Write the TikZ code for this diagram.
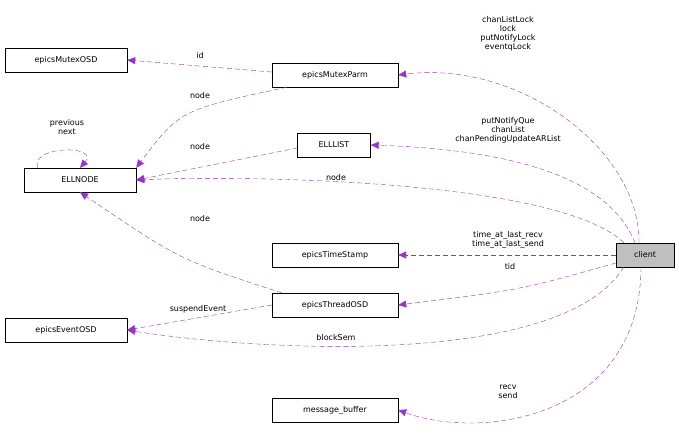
\documentclass[tikz,border=0pt]{standalone}
\usepackage{fontspec}
\setmainfont{DejaVu Sans}
\usetikzlibrary{arrows.meta}
\definecolor{edgecol}{HTML}{9A32CD}
\tikzset{
  box/.style={draw, fill=white, inner sep=0pt, minimum height=24pt, font=\fontsize{8}{9}\selectfont},
  gray box/.style={box, fill=black!25},
  rel/.style={draw=edgecol, dashed, dash pattern=on 5pt off 3pt, -{Triangle[length=8pt,width=7pt]}, fill=none},
  lbl/.style={font=\fontsize{8}{9}\selectfont, align=center, inner sep=1pt}
}
\begin{document}
\begin{tikzpicture}[x=1pt, y=-1pt]
\useasboundingbox (0,0) rectangle (679,447);

\node[box, minimum width=122pt] (mutexosd) at (66,60) {epicsMutexOSD};
\node[box, minimum width=126pt] (mutexparm) at (335,75) {epicsMutexParm};
\node[box, minimum width=112pt] (ellnode) at (80,180) {ELLNODE};
\node[box, minimum width=73pt] (elllist) at (334,145) {ELLLIST};
\node[box, minimum width=126pt] (timestamp) at (335,255) {epicsTimeStamp};
\node[gray box, minimum width=58pt] (client) at (645,255) {client};
\node[box, minimum width=126pt] (threadosd) at (335,305) {epicsThreadOSD};
\node[box, minimum width=122pt] (eventosd) at (66,330) {epicsEventOSD};
\node[box, minimum width=126pt] (msgbuf) at (335,410) {message\_buffer};

% edges into ELLNODE
\draw[rel] (mutexparm.south west) ++(15,0) coordinate (mp) .. controls (180,110) .. (ellnode.north east);
\draw[rel] (mutexparm.west) ++(0,-3) coordinate (mpw) -- (mutexosd.east);
\draw[rel] (elllist.west) ++(0,3) coordinate (elw) -- (ellnode.east);
\draw[rel] (threadosd.north west) ++(10,0) coordinate (to) .. controls (180,260) .. (ellnode.south);
\draw[rel] (threadosd.west) -- (eventosd.east);
\draw[rel] (ellnode.north west) ++(14,0) coordinate (sa) .. controls (30,145) and (100,145) .. (ellnode.north);

% edges from client
\draw[rel] (client.north) ++(-6,0) coordinate (c1) .. controls (640,150) and (520,60) .. (mutexparm.east);
\draw[rel] (client.north) ++(-10,0) coordinate (c2) .. controls (610,180) and (520,150) .. (elllist.east);
\draw[rel] (client.north west) ++(8,0) coordinate (c3) .. controls (560,180) and (250,175) .. (ellnode.east);
\draw[rel] (client.west) -- (timestamp.east);
\draw[rel] (client.west) ++(0,8) coordinate (c5) .. controls (520,290) .. (threadosd.east);
\draw[rel] (client.south west) ++(8,0) coordinate (c6) .. controls (560,370) and (250,350) .. (eventosd.east);
\draw[rel] (client.south) ++(-4,0) coordinate (c7) .. controls (640,420) and (480,440) .. (msgbuf.east);

% labels
\node[lbl] (l1) at (508,34) {chanListLock\\lock\\putNotifyLock\\eventqLock};
\node[lbl] (l2) at (200,56) {id};
\node[lbl] (l3) at (200,96) {node};
\node[lbl] (l4) at (67,127) {previous\\next};
\node[lbl] (l5) at (508,130) {putNotifyQue\\chanList\\chanPendingUpdateARList};
\node[lbl] (l6) at (200,147) {node};
\node[lbl] (l7) at (336,178) {node};
\node[lbl] (l8) at (200,219) {node};
\node[lbl] (l9) at (508,240) {time\_at\_last\_recv\\time\_at\_last\_send};
\node[lbl] (l10) at (510,267) {tid};
\node[lbl] (l11) at (198,309) {suspendEvent};
\node[lbl] (l12) at (336,338) {blockSem};
\node[lbl] (l13) at (508,392) {recv\\send};
\end{tikzpicture}
\end{document}
